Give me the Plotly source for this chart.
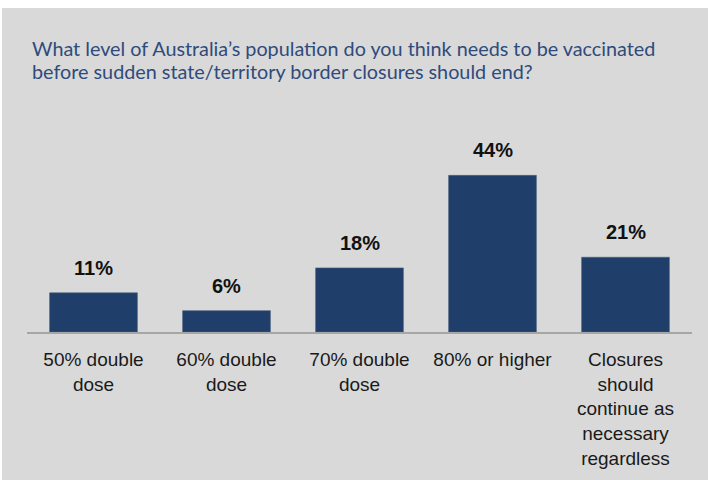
import plotly.graph_objects as go

categories = ["50% double<br>dose", "60% double<br>dose", "70% double<br>dose",
              "80% or higher", "Closures<br>should<br>continue as<br>necessary<br>regardless"]
values = [11, 6, 18, 44, 21]
value_labels = ["11%", "6%", "18%", "44%", "21%"]
title_lines = ["What level of Australia\u2019s population do you think needs to be vaccinated",
               "before sudden state/territory border closures should end?"]

W, H = 708, 480
L, R, T, B = 27, 16, 154, 148

fig = go.Figure()
fig.add_trace(go.Bar(
    x=categories, y=values,
    marker=dict(color="#1f3e6a", line=dict(color="#4a6080", width=0.6)),
    width=0.66,
    hoverinfo="skip",
))

for c, v, t in zip(categories, values, value_labels):
    fig.add_annotation(x=c, y=v, text="<b>" + t + "</b>", showarrow=False, yanchor="bottom", yshift=12,
                       font=dict(family="Liberation Sans, Arial", size=20, color="#111111"))

pw = W - L - R
ph = H - T - B
def px_x(px):
    return (px - L) / pw
def px_y(py):
    return (H - B - py) / ph

# white strips at the top and left edge of the picture
fig.add_shape(type="rect", xref="paper", yref="paper", x0=px_x(0), x1=px_x(W),
              y0=px_y(8), y1=px_y(0), fillcolor="white", line_width=0, layer="below")
fig.add_shape(type="rect", xref="paper", yref="paper", x0=px_x(0), x1=px_x(2),
              y0=px_y(H), y1=px_y(0), fillcolor="white", line_width=0, layer="below")

for line, cy in zip(title_lines, [48, 71]):
    fig.add_annotation(xref="paper", yref="paper", x=px_x(30), y=px_y(cy), xanchor="left", yanchor="middle",
                       align="left", showarrow=False, text=line,
                       font=dict(family="Lato, Open Sans", size=19.8, color="#2f4b7c"))

fig.update_layout(
    width=W, height=H,
    margin=dict(l=L, r=R, t=T, b=B, autoexpand=False),
    paper_bgcolor="#d9d9d9", plot_bgcolor="#d9d9d9",
    showlegend=False,
    xaxis=dict(showline=True, linecolor="#a6a6a6", linewidth=2, ticks="outside", ticklen=9,
               tickcolor="rgba(0,0,0,0)", tickangle=0,
               tickfont=dict(family="Liberation Sans, Arial", size=19, color="#1a1a1a"),
               fixedrange=True),
    yaxis=dict(range=[0, 50], visible=False, fixedrange=True),
)

fig.write_html("out.html", config={"displayModeBar": False},
               post_script="document.body.style.margin='0';document.body.style.overflow='hidden';")
